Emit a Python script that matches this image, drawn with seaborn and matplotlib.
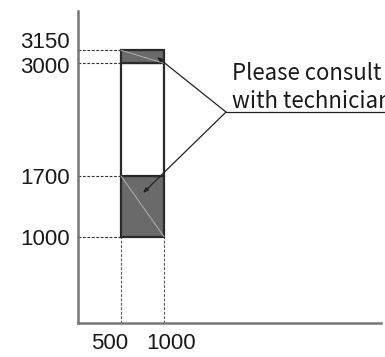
import matplotlib
matplotlib.use("Agg")
import matplotlib.pyplot as plt
import matplotlib.transforms as mtransforms
import seaborn as sns

# Chart data
x_bounds = [500, 1000]
y_levels = [1000, 1700, 3000, 3150]
seg_bottom = [1000, 1700, 3000]
seg_top = [1700, 3000, 3150]
seg_filled = [True, False, True]
note_lines = ["Please consult", "with technician"]
note_anchor = (1721, 2438)
note_targets = [(919, 3073), (756, 1504)]

sns.set_theme(style="white")
plt.rcParams["font.family"] = ["Liberation Sans", "DejaVu Sans"]

fig = plt.figure(figsize=(3.85, 3.57), dpi=100)
ax = fig.add_axes([78 / 385, (357 - 323.4) / 357, (381 - 78) / 385, (323.4 - 11) / 357])
ax.set_xlim(0, 3523)
ax.set_ylim(0, 3603)

x0, x1 = x_bounds
width = x1 - x0

# reference dashed lines
for y in y_levels:
    ax.plot([0, x0], [y, y], ls=(0, (2.5, 1.5)), color="#333333", lw=0.8, zorder=1)
for x in x_bounds:
    ax.plot([x, x], [0, y_levels[0]], ls=(0, (2.5, 1.5)), color="#555555", lw=0.8, zorder=1)

# stacked segments
for b, t, filled in zip(seg_bottom, seg_top, seg_filled):
    ax.bar(x0, t - b, bottom=b, width=width, align="edge",
           color="#6a6a6a" if filled else "white",
           edgecolor="#2a2a2a", linewidth=1.6, zorder=2)
    if filled:
        ax.plot([x0, x1], [t, b], color="#b0b0b0", lw=0.7, zorder=3)

# annotation
for target in note_targets:
    ax.annotate("", xy=target, xytext=note_anchor,
                arrowprops=dict(arrowstyle="-|>,head_length=0.25,head_width=0.1",
                                color="#222222", lw=0.9, shrinkA=0, shrinkB=0), zorder=4)
ax.plot([note_anchor[0], 3800], [note_anchor[1], note_anchor[1]],
        color="#222222", lw=0.9, clip_on=False, zorder=4)
ax.text(1791, 2810, note_lines[0], fontsize=16, va="baseline", ha="left",
        color="#1a1a1a", family=["Noto Sans CJK JP", "DejaVu Sans"], clip_on=False)
ax.text(1791, 2480, note_lines[1], fontsize=16, va="baseline", ha="left",
        color="#1a1a1a", family=["Noto Sans CJK JP", "DejaVu Sans"], clip_on=False)

# axes styling
for side in ["top", "right"]:
    ax.spines[side].set_visible(False)
for side in ["left", "bottom"]:
    ax.spines[side].set_color("#777777")
    ax.spines[side].set_linewidth(1.8)

ax.set_yticks(y_levels)
ax.set_yticklabels([str(v) for v in y_levels], fontsize=16, color="#1a1a1a")
ax.set_xticks(x_bounds)
ax.set_xticklabels([str(v) for v in x_bounds], fontsize=16, color="#1a1a1a")
ax.tick_params(axis="both", length=0)
ax.tick_params(axis="y", pad=6)
ax.tick_params(axis="x", pad=7)

# nudge labels apart like the original
for lab, dx in zip(ax.get_xticklabels(), [-11, 7]):
    lab.set_transform(lab.get_transform() + mtransforms.ScaledTranslation(dx / 100, 0, fig.dpi_scale_trans))
for lab, dy in zip(ax.get_yticklabels(), [0, 0, -2, 10]):
    lab.set_transform(lab.get_transform() + mtransforms.ScaledTranslation(0, dy / 100, fig.dpi_scale_trans))

ax.grid(False)
fig.savefig("out.png", dpi=100)
